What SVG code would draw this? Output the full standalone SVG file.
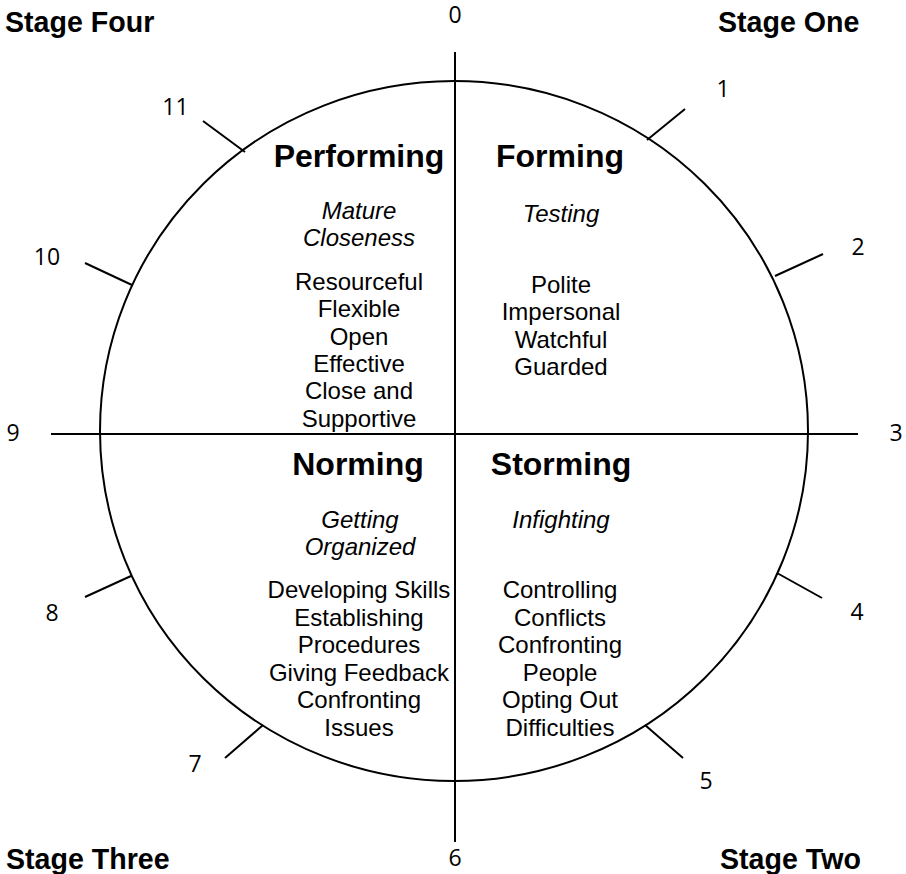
<svg xmlns="http://www.w3.org/2000/svg" width="906" height="874" viewBox="0 0 906 874">
  <style>
    .stage { font-family: "Liberation Sans", Arial, sans-serif; font-weight: bold; font-size: 28.6px; fill: #000; }
    .title { font-family: "Liberation Sans", Arial, sans-serif; font-weight: bold; font-size: 32px; fill: #000; text-anchor: middle; }
    .mood { font-family: "Liberation Sans", Arial, sans-serif; font-style: italic; font-size: 24px; fill: #000; text-anchor: middle; }
    .trait { font-family: "Liberation Sans", Arial, sans-serif; font-size: 24px; fill: #000; text-anchor: middle; }
    .num { font-family: "Open Sans", "DejaVu Sans", sans-serif; font-size: 23px; fill: #000; text-anchor: middle; }
    .stroke { stroke: #000; stroke-width: 2; fill: none; }
  </style>

  <rect width="906" height="874" fill="#fff"/>

  <!-- wheel, axes and clock ticks -->
  <g id="connectors" class="stroke">
    <ellipse cx="454" cy="431" rx="354" ry="350"/>
    <line x1="455" y1="52" x2="455" y2="842"/>
    <line x1="51" y1="434" x2="858" y2="434"/>
    <line x1="685" y1="109" x2="647" y2="140"/>
    <line x1="823" y1="254" x2="775" y2="276"/>
    <line x1="822" y1="598" x2="777" y2="573"/>
    <line x1="683" y1="758" x2="645" y2="725"/>
    <line x1="225" y1="758" x2="263" y2="725"/>
    <line x1="85" y1="597" x2="131" y2="576"/>
    <line x1="85" y1="263" x2="132" y2="285"/>
    <line x1="203" y1="121" x2="245" y2="152"/>
  </g>

  <!-- clock numbers -->
  <g id="numbers">
    <text class="num" x="455" y="23">0</text>
    <text class="num" x="723" y="97">1</text>
    <text class="num" x="858" y="255">2</text>
    <text class="num" x="896" y="441">3</text>
    <text class="num" x="857" y="620">4</text>
    <text class="num" x="706" y="789">5</text>
    <text class="num" x="455" y="866">6</text>
    <text class="num" x="195" y="772">7</text>
    <text class="num" x="52" y="621">8</text>
    <text class="num" x="13" y="441">9</text>
    <text class="num" x="47" y="265">10</text>
    <text class="num" x="175.5" y="115">11</text>
  </g>

  <!-- stage corner labels -->
  <g id="stage-labels">
    <text class="stage" x="5" y="32">Stage Four</text>
    <text class="stage" x="718" y="32">Stage One</text>
    <text class="stage" x="6" y="869">Stage Three</text>
    <text class="stage" x="720" y="869">Stage Two</text>
  </g>

  <g id="forming">
    <text class="title" x="560" y="167">Forming</text>
    <text class="mood" x="561" y="221.5">Testing</text>
    <text class="trait" x="561" y="292.5">Polite</text>
    <text class="trait" x="561" y="320">Impersonal</text>
    <text class="trait" x="561" y="347.5">Watchful</text>
    <text class="trait" x="561" y="375">Guarded</text>
  </g>

  <g id="storming">
    <text class="title" x="561" y="475">Storming</text>
    <text class="mood" x="561" y="528">Infighting</text>
    <text class="trait" x="560" y="598">Controlling</text>
    <text class="trait" x="560" y="625.5">Conflicts</text>
    <text class="trait" x="560" y="653">Confronting</text>
    <text class="trait" x="560" y="680.5">People</text>
    <text class="trait" x="560" y="708">Opting Out</text>
    <text class="trait" x="560" y="735.5">Difficulties</text>
  </g>

  <g id="norming">
    <text class="title" x="358" y="475">Norming</text>
    <text class="mood" x="360" y="528">Getting</text>
    <text class="mood" x="360" y="555">Organized</text>
    <text class="trait" x="359" y="598">Developing Skills</text>
    <text class="trait" x="359" y="625.5">Establishing</text>
    <text class="trait" x="359" y="653">Procedures</text>
    <text class="trait" x="359" y="680.5">Giving Feedback</text>
    <text class="trait" x="359" y="708">Confronting</text>
    <text class="trait" x="359" y="735.5">Issues</text>
  </g>

  <g id="performing">
    <text class="title" x="359" y="167">Performing</text>
    <text class="mood" x="359" y="219">Mature</text>
    <text class="mood" x="359" y="246">Closeness</text>
    <text class="trait" x="359" y="290">Resourceful</text>
    <text class="trait" x="359" y="317.3">Flexible</text>
    <text class="trait" x="359" y="344.6">Open</text>
    <text class="trait" x="359" y="372">Effective</text>
    <text class="trait" x="359" y="399.3">Close and</text>
    <text class="trait" x="359" y="426.6">Supportive</text>
  </g>
</svg>
